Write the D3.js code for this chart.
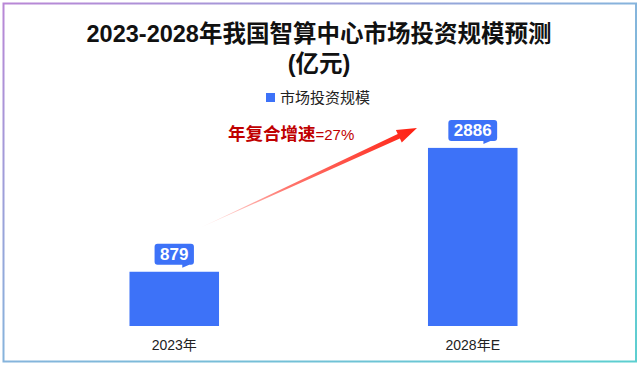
<!DOCTYPE html>
<html><head><meta charset="utf-8">
<script src="https://cdn.jsdelivr.net/npm/d3@7"></script>
<style>
html,body{margin:0;padding:0;background:#fff;}
svg{display:block;font-family:"Liberation Sans","Noto Sans CJK SC",sans-serif;}
</style></head>
<body>
<script>
const categories = ["2023年", "2028年E"];
const values = [879, 2886];
const seriesName = "市场投资规模";
const titleLines = ["2023-2028年我国智算中心市场投资规模预测", "(亿元)"];
const cagrLabel = ["年复合增速", "=27%"];

const W = 639, H = 365;
const svg = d3.select("body").append("svg").attr("width", W).attr("height", H);
const defs = svg.append("defs");

// gradient border
const bg = defs.append("linearGradient").attr("id","bord").attr("x1","0%").attr("y1","0%").attr("x2","100%").attr("y2","100%");
bg.append("stop").attr("offset","0%").attr("stop-color","#b987d6");
bg.append("stop").attr("offset","50%").attr("stop-color","#86b4dc");
bg.append("stop").attr("offset","100%").attr("stop-color","#5ccfd0");
svg.append("rect").attr("x",3.5).attr("y",3.5).attr("width",632.5).attr("height",358).attr("fill","#fff")
  .attr("stroke","url(#bord)").attr("stroke-width",2);

// title
svg.append("text").attr("x",319).attr("y",42).attr("text-anchor","middle")
  .attr("font-size",23.5).attr("font-weight","bold").attr("fill","#111").text(titleLines[0]);
svg.append("text").attr("x",319).attr("y",72).attr("text-anchor","middle")
  .attr("font-size",23.5).attr("font-weight","bold").attr("fill","#111").text(titleLines[1]);

const barColor = "#3d72f8";

// legend
const lg = svg.append("g");
lg.append("rect").attr("x",266).attr("y",93).attr("width",9).attr("height",9).attr("fill",barColor);
lg.append("text").attr("x",280).attr("y",103).attr("font-size",15).attr("fill","#222").text(seriesName);

// scales
const x = d3.scaleBand().domain(categories).range([25,622]).paddingInner(0.7).paddingOuter(0.35);
const y = d3.scaleLinear().domain([0,3500]).range([326,110]);

// bars
svg.selectAll("rect.bar").data(values).enter().append("rect").attr("class","bar")
  .attr("x",(d,i)=>x(categories[i])).attr("width",x.bandwidth())
  .attr("y",d=>y(d)).attr("height",d=>y(0)-y(d)).attr("fill",barColor);

// x axis labels
const xa = svg.append("g").attr("transform",`translate(0,${y(0)})`)
  .call(d3.axisBottom(x).tickSize(0).tickPadding(14));
xa.select(".domain").remove();
xa.selectAll("text").attr("font-size",14).attr("fill","#222")
  .attr("font-family","\"Liberation Sans\",\"Noto Sans CJK SC\",sans-serif");

// data label bubbles
const lbl = svg.selectAll("g.lbl").data(values).enter().append("g").attr("class","lbl")
  .attr("transform",(d,i)=>`translate(${x(categories[i])+x.bandwidth()/2},${y(d)-7})`);
lbl.each(function(d){
  const g = d3.select(this);
  g.append("text").attr("x",0).attr("y",-5).attr("text-anchor","middle")
    .attr("font-size",17).attr("font-weight","bold").attr("fill","#fff").text(d);
  const w = String(d).length*9.45 + 11;
  const h = 21;
  g.insert("path","text").attr("fill",barColor)
    .attr("d",()=>{
      const r=3, x0=-w/2, x1=w/2, y0=-h, y1=0;
      return `M${x0+r},${y0} H${x1-r} Q${x1},${y0} ${x1},${y0+r} V${y1-r} Q${x1},${y1} ${x1-r},${y1}`+
        ` H${w*0.28+4} L${w*0.28-3},${y1+3} L${w*0.28-3},${y1} H${x0+r} Q${x0},${y1} ${x0},${y1-r} V${y0+r} Q${x0},${y0} ${x0+r},${y0} Z`;
    });
});

// CAGR arrow
const sx = x(categories[0]) + x.bandwidth()*0.79, sy = y(values[0]) - 44;
const ex = x(categories[1]) - 11, ey = y(values[1]) - 20;
const dx = ex-sx, dy = ey-sy, L = Math.hypot(dx,dy);
const ux = dx/L, uy = dy/L, nx = -uy, ny = ux;
const ag = defs.append("linearGradient").attr("id","arr").attr("gradientUnits","userSpaceOnUse")
  .attr("x1",sx).attr("y1",sy).attr("x2",ex).attr("y2",ey);
ag.append("stop").attr("offset","0%").attr("stop-color","#ff3b2f").attr("stop-opacity",0.05);
ag.append("stop").attr("offset","40%").attr("stop-color","#ff3b2f").attr("stop-opacity",0.7);
ag.append("stop").attr("offset","100%").attr("stop-color","#ff1f10").attr("stop-opacity",1);
const headL = 20, headW = 7, shaftW = 2.6;
const bx = ex - ux*headL, by = ey - uy*headL;
const pts = [
  [sx, sy],
  [bx + nx*shaftW, by + ny*shaftW],
  [bx + nx*headW, by + ny*headW],
  [ex, ey],
  [bx - nx*headW, by - ny*headW],
  [bx - nx*shaftW, by - ny*shaftW]
];
svg.append("path").attr("d", "M" + pts.map(p=>p.join(",")).join("L") + "Z").attr("fill","url(#arr)");

// CAGR text
const ct = svg.append("text").attr("x",228).attr("y",140).attr("fill","#c00000");
ct.append("tspan").attr("font-size",17.5).attr("font-weight","bold").text(cagrLabel[0]);
ct.append("tspan").attr("font-size",15).text(cagrLabel[1]);
</script>
</body></html>
